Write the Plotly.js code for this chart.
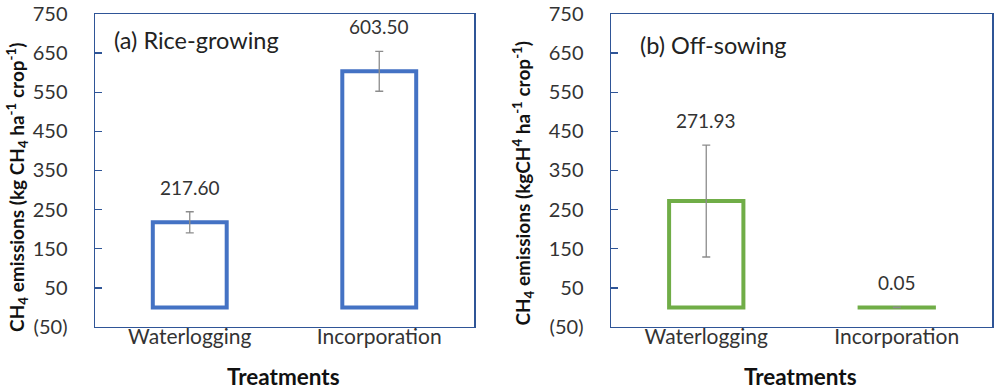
<!DOCTYPE html>
<html>
<head>
<meta charset="utf-8">
<script src="https://cdn.plot.ly/plotly-3.0.1.min.js"></script>
<style>html,body{margin:0;padding:0;background:#fff;}#chart{width:1000px;height:389px;}</style>
</head>
<body>
<div id="chart"></div>
<script>
// ---- data ----
const categories = ['Waterlogging', 'Incorporation'];
const riceValues = [217.60, 603.50];
const riceErrors = [27, 51];
const offValues = [271.93, 0.05];
const offErrors = [143, 0.4];
const yTickVals = [-50, 50, 150, 250, 350, 450, 550, 650, 750];
const yTickText = ['(50)', '50', '150', '250', '350', '450', '550', '650', '750'];
const panelLabels = ['(a) Rice-growing', '(b) Off-sowing'];
const yTitles = [
  'CH<sub>4</sub> emissions (kg CH<sub>4</sub> ha<sup>-1</sup> crop<sup>-1</sup>)',
  'CH<sub>4</sub> emissions (kgCH<sup>4</sup> ha<sup>-1</sup> crop<sup>-1</sup>)'
];
const xTitle = 'Treatments';

// ---- styles ----
const FONT = 'Lato, "Open Sans", sans-serif';
const frameColor = '#2F5597';
const blue = '#4472C4';
const green = '#70AD47';
const errColor = '#8C8C8C';

function barTrace(vals, errs, color, xa, ya) {
  return {
    type: 'bar', x: categories, y: vals, xaxis: xa, yaxis: ya,
    width: 0.39,
    marker: {color: '#ffffff', line: {color: color, width: 4}},
    error_y: {type: 'data', array: errs, visible: true, color: errColor, thickness: 1.3, width: 4},
    hoverinfo: 'skip', showlegend: false
  };
}

function yAxis(anchor) {
  return {
    domain: [0.1594, 0.964], anchor: anchor,
    range: [-50, 750], tickvals: yTickVals, ticktext: yTickText,
    showgrid: false, zeroline: false,
    showline: true, mirror: true, linecolor: frameColor, linewidth: 1.5,
    ticks: 'inside', ticklen: 7, tickwidth: 1.5, tickcolor: frameColor,
    ticklabelstandoff: 22,
    tickfont: {family: FONT, size: 20, color: '#333'}
  };
}
function xAxis(domain, anchor) {
  return {
    domain: domain, anchor: anchor, type: 'category', range: [-0.5, 1.5],
    showgrid: false, zeroline: false,
    showline: true, mirror: true, linecolor: frameColor, linewidth: 1.5,
    ticks: '', ticklabelstandoff: -10,
    tickfont: {family: FONT, size: 21, color: '#333'}
  };
}

const data = [
  barTrace(riceValues, riceErrors, blue, 'x', 'y'),
  barTrace(offValues, offErrors, green, 'x2', 'y2')
];

const annotations = [];
function valueLabels(vals, errs, xa, ya) {
  vals.forEach((v, i) => {
    annotations.push({
      x: categories[i], y: v + errs[i], xref: xa, yref: ya,
      text: v.toFixed(2), showarrow: false, yanchor: 'bottom', yshift: 11,
      font: {family: FONT, size: 19, color: '#333'}
    });
  });
}
valueLabels(riceValues, riceErrors, 'x', 'y');
valueLabels(offValues, offErrors, 'x2', 'y2');

annotations.push(
  {text: panelLabels[0], xref: 'paper', yref: 'paper', x: 0.112, y: 0.897, xanchor: 'left', yanchor: 'middle', showarrow: false, font: {family: FONT, size: 23.5, color: '#222'}},
  {text: panelLabels[1], xref: 'paper', yref: 'paper', x: 0.638, y: 0.884, xanchor: 'left', yanchor: 'middle', showarrow: false, font: {family: FONT, size: 23.5, color: '#222'}},
  {text: yTitles[0], xref: 'paper', yref: 'paper', x: 0.017, y: 0.517, textangle: -90, xanchor: 'center', yanchor: 'middle', showarrow: false, font: {family: FONT, size: 19, color: '#111', weight: 'bold'}},
  {text: yTitles[1], xref: 'paper', yref: 'paper', x: 0.523, y: 0.528, textangle: -90, xanchor: 'center', yanchor: 'middle', showarrow: false, font: {family: FONT, size: 19, color: '#111', weight: 'bold'}},
  {text: xTitle, xref: 'paper', yref: 'paper', x: 0.2835, y: 0.031, xanchor: 'center', yanchor: 'middle', showarrow: false, font: {family: FONT, size: 22.5, color: '#111', weight: 'bold'}},
  {text: xTitle, xref: 'paper', yref: 'paper', x: 0.8, y: 0.031, xanchor: 'center', yanchor: 'middle', showarrow: false, font: {family: FONT, size: 22.5, color: '#111', weight: 'bold'}}
);

const layout = {
  width: 1000, height: 389,
  margin: {l: 0, r: 0, t: 0, b: 0},
  paper_bgcolor: '#fff', plot_bgcolor: '#fff',
  bargap: 0.61,
  xaxis: xAxis([0.095, 0.474], 'y'),
  yaxis: yAxis('x'),
  xaxis2: xAxis([0.611, 0.992], 'y2'),
  yaxis2: yAxis('x2'),
  annotations: annotations,
  font: {family: FONT}
};

Plotly.newPlot('chart', data, layout, {staticPlot: true, displayModeBar: false});
</script>
</body>
</html>
